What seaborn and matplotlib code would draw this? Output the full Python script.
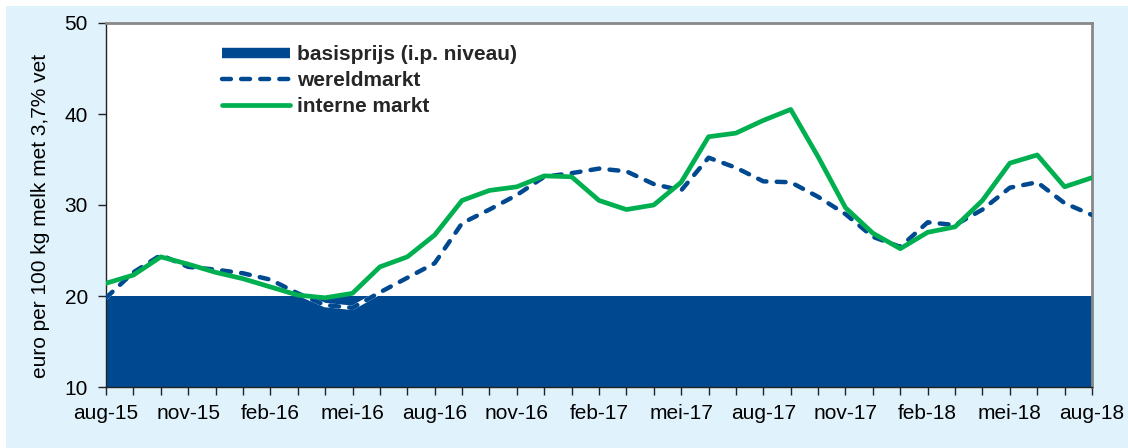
import matplotlib
matplotlib.use("Agg")
import matplotlib.pyplot as plt
from matplotlib.patches import Rectangle
from matplotlib.lines import Line2D
import seaborn as sns
import pandas as pd
import numpy as np

# ---- data ----
month_labels = ["aug-15", "sep-15", "okt-15", "nov-15", "dec-15", "jan-16", "feb-16", "mrt-16",
                "apr-16", "mei-16", "jun-16", "jul-16", "aug-16", "sep-16", "okt-16", "nov-16",
                "dec-16", "jan-17", "feb-17", "mrt-17", "apr-17", "mei-17", "jun-17", "jul-17",
                "aug-17", "sep-17", "okt-17", "nov-17", "dec-17", "jan-18", "feb-18", "mrt-18",
                "apr-18", "mei-18", "jun-18", "jul-18", "aug-18"]
wereldmarkt = [19.8, 22.6, 24.5, 23.2, 22.9, 22.5, 21.8, 20.3, 19.0, 18.7, 20.4, 22.0, 23.6,
               28.0, 29.5, 31.1, 33.1, 33.5, 34.0, 33.7, 32.3, 31.6, 35.2, 34.1, 32.6, 32.5,
               30.9, 29.0, 26.5, 25.4, 28.1, 27.8, 29.5, 31.9, 32.5, 30.2, 28.9]
interne_markt = [21.4, 22.3, 24.3, 23.5, 22.6, 21.9, 21.0, 20.1, 19.8, 20.3, 23.2, 24.3, 26.7,
                 30.5, 31.6, 32.0, 33.2, 33.1, 30.5, 29.5, 30.0, 32.5, 37.5, 37.9, 39.3, 40.5,
                 35.3, 29.7, 26.9, 25.2, 27.0, 27.6, 30.5, 34.6, 35.5, 32.0, 33.0]
basisprijs = [20.0] * len(month_labels)
yticks = [10, 20, 30, 40, 50]
legend_labels = ["basisprijs (i.p. niveau)", "wereldmarkt", "interne markt"]
ylabel = "euro per 100 kg melk met 3,7% vet"

BLUE = "#004990"
GREEN = "#00B050"
BG = "#E0F2FC"

sns.set_theme(style="white")
plt.rcParams["font.family"] = ["Liberation Sans", "DejaVu Sans"]

df = pd.DataFrame({"m": np.arange(len(month_labels)),
                   "wereldmarkt": wereldmarkt,
                   "interne": interne_markt,
                   "basis": basisprijs})

fig = plt.figure(figsize=(11.28, 4.48), dpi=100, facecolor="white")
fig.patches.append(Rectangle((6 / 1128, 0), 1 - 6 / 1128, (448 - 6) / 448,
                             transform=fig.transFigure, facecolor=BG, edgecolor="none", zorder=-10))
ax = fig.add_axes([106 / 1128, 61 / 448, 986 / 1128, 364 / 448])
ax.set_facecolor("white")

ax.fill_between(df["m"], 10, df["basis"], color=BLUE, linewidth=0, zorder=1)

# white underlay for dashed line
sns.lineplot(data=df, x="m", y="wereldmarkt", ax=ax, color="white", linewidth=3.2,
             solid_capstyle="round", solid_joinstyle="round", zorder=2)
sns.lineplot(data=df, x="m", y="wereldmarkt", ax=ax, color=BLUE, linewidth=3.2,
             dashes=(2.0, 2.3), zorder=3)
for ln in ax.lines[-1:]:
    ln.set_dash_capstyle("round")
    ln.set_dash_joinstyle("round")
sns.lineplot(data=df, x="m", y="interne", ax=ax, color=GREEN, linewidth=3.4,
             solid_joinstyle="round", zorder=4)

ax.set_xlim(0, len(month_labels) - 1)
ax.set_ylim(10, 50)
ax.set_yticks(yticks)
ax.set_yticklabels([str(v) for v in yticks])
ax.set_xticks(np.arange(0, len(month_labels), 3))
ax.set_xticklabels(month_labels[::3])
ax.set_xticks(np.arange(len(month_labels)), minor=True)
ax.tick_params(axis="both", which="both", direction="out", length=6, width=1, color="#222222",
               labelsize=15, labelcolor="black")
ax.tick_params(axis="x", which="both", bottom=True, pad=6)
ax.tick_params(axis="y", which="both", left=True, pad=7)
ax.set_xlabel("")
ax.set_ylabel(ylabel, fontsize=15, color="black")
ax.yaxis.set_label_coords(-0.057, 0.47)

for s in ["left", "bottom"]:
    ax.spines[s].set_color("#222222")
    ax.spines[s].set_linewidth(1.0)
for s in ["top", "right"]:
    ax.spines[s].set_color("#888888")
    ax.spines[s].set_linewidth(2.0)

handles = [Line2D([], [], color=BLUE, linewidth=7.5, solid_capstyle="butt"),
           Line2D([], [], color=BLUE, linewidth=3.2, dashes=(2.0, 2.3), dash_capstyle="round"),
           Line2D([], [], color=GREEN, linewidth=3.4)]
leg = ax.legend(handles, legend_labels, loc="upper left", bbox_to_anchor=(0.1176, 0.94),
                frameon=False, handlelength=3.27, handletextpad=0.34, labelspacing=0.34,
                borderaxespad=0, borderpad=0,
                prop={"weight": "bold", "size": 15})

fig.savefig("out.png", dpi=100, facecolor="white")
